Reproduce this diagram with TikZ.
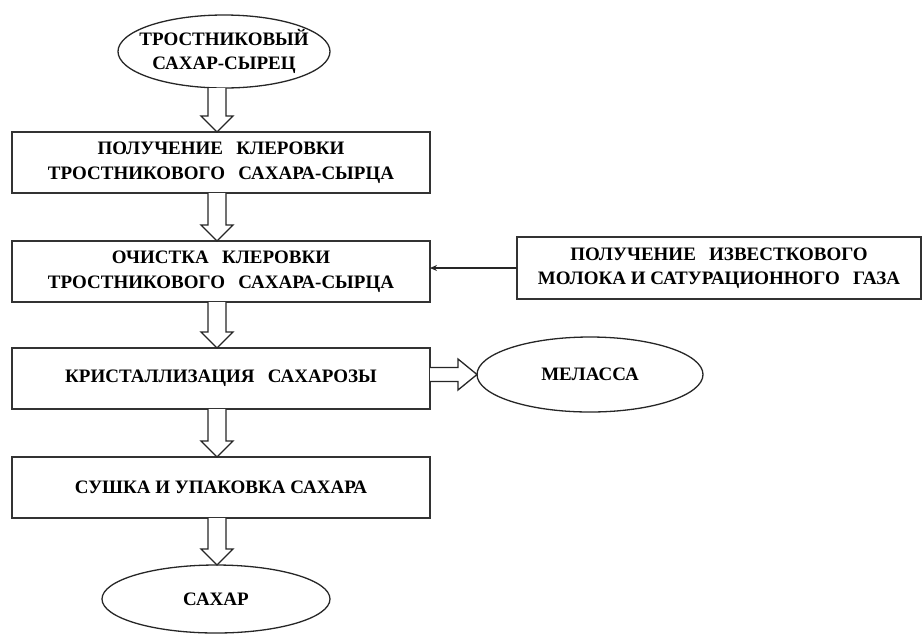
\documentclass[tikz,border=0pt]{standalone}
\usepackage{fontspec}
\setmainfont{Liberation Serif}
\usetikzlibrary{calc,shapes.geometric,arrows.meta}
\newcommand\blockdown[2]{%
  \draw[blockarrow] let \p1=#1, \p2=#2 in
    (\x1-9pt,\y1) -- (\x1-9pt,\y2+16pt) -- (\x1-16pt,\y2+16pt) -- (\x1,\y2)
    -- (\x1+16pt,\y2+16pt) -- (\x1+9pt,\y2+16pt) -- (\x1+9pt,\y1);}
\newcommand\dsp{\hspace{0.45em}}
\begin{document}
\begin{tikzpicture}[x=1pt,y=1pt,
  every node/.style={inner sep=0pt,outer sep=0pt},
  txt/.style={font=\fontsize{19}{24.5}\selectfont\bfseries,align=center,text=black},
  procbox/.style={draw=black!80,line width=1.3pt,rectangle,minimum width=418pt,minimum height=61pt,txt},
  oval/.style={draw=black!85,line width=1.3pt,ellipse},
  blockarrow/.style={draw=black!85,line width=1.3pt,fill=white,line join=miter},
  thinarrow/.style={draw=black!85,line width=1.1pt,-{Stealth[length=7pt,width=6pt]}}]
\useasboundingbox (0,0) rectangle (923,-633);
\coordinate (ax) at (217,0);
\node[oval,minimum width=212pt,minimum height=73pt,
  label={[txt]center:ТРОСТНИКОВЫЙ\\САХАР-СЫРЕЦ}] (raw) at (224,-51.5) {};
\node[procbox] (b1) at (221,-162.5) {ПОЛУЧЕНИЕ\dsp{} КЛЕРОВКИ\\ТРОСТНИКОВОГО\dsp{} САХАРА-СЫРЦА};
\node[procbox] (b2) at (221,-271.5) {ОЧИСТКА\dsp{} КЛЕРОВКИ\\ТРОСТНИКОВОГО\dsp{} САХАРА-СЫРЦА};
\node[procbox,minimum width=404pt,minimum height=62pt] (lime) at (719,-268) {ПОЛУЧЕНИЕ\dsp{} ИЗВЕСТКОВОГО\\МОЛОКА И САТУРАЦИОННОГО\dsp{} ГАЗА};
\node[procbox] (b3) at (221,-378.5) {КРИСТАЛЛИЗАЦИЯ\dsp{} САХАРОЗЫ};
\node[oval,minimum width=226pt,minimum height=75pt,
  label={[txt]center:МЕЛАССА}] (mel) at (590,-374.5) {};
\node[procbox] (b4) at (221,-487.5) {СУШКА И УПАКОВКА САХАРА};
\node[oval,minimum width=228pt,minimum height=68pt,
  label={[txt]center:САХАР}] (sugar) at (216,-599) {};
\blockdown{(ax |- raw.south)}{(ax |- b1.north)}
\blockdown{(ax |- b1.south)}{(ax |- b2.north)}
\blockdown{(ax |- b2.south)}{(ax |- b3.north)}
\blockdown{(ax |- b3.south)}{(ax |- b4.north)}
\blockdown{(ax |- b4.south)}{(ax |- sugar.north)}
\draw[blockarrow] let \p1=(b3.east), \p2=(mel.west) in
  (\x1,\y2+7pt) -- (\x2-19pt,\y2+7pt) -- (\x2-19pt,\y2+15.5pt) -- (\x2,\y2)
  -- (\x2-19pt,\y2-15.5pt) -- (\x2-19pt,\y2-7pt) -- (\x1,\y2-7pt);
\draw[thinarrow] (lime.west) -- (lime.west -| b2.east);
\end{tikzpicture}
\end{document}
